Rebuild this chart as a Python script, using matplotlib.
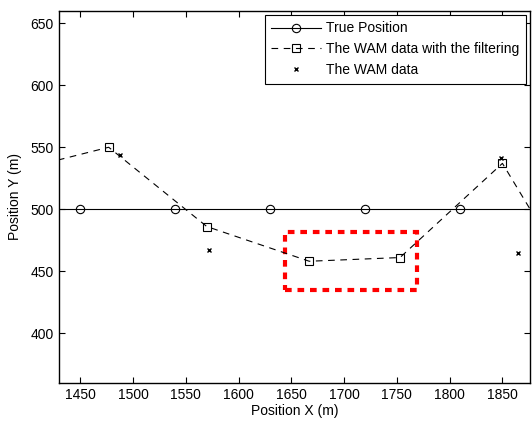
import matplotlib
matplotlib.use("Agg")
import matplotlib.pyplot as plt
from matplotlib.patches import Rectangle

plt.rcParams['font.family'] = ['Liberation Sans', 'DejaVu Sans']
plt.rcParams['font.size'] = 10

# true position
true_x = [1360, 1450, 1540, 1630, 1720, 1810, 1900]
true_y = [500, 500, 500, 500, 500, 500, 500]
# WAM data with the filtering
filt_x = [1384, 1477, 1570, 1667, 1753, 1850, 1940]
filt_y = [530, 550, 486, 458, 461, 537, 410]
# raw WAM data
wam_x = [1488, 1572, 1849, 1865]
wam_y = [544, 467, 541, 465]
# highlighted region (x0, y0, x1, y1)
box = [1644, 435, 1769, 482]

fig = plt.figure(figsize=(5.32, 4.21), dpi=100)
ax = fig.add_axes([0.111, 0.091, 0.885, 0.883])

ax.plot(true_x, true_y, '-', color='k', lw=0.8, marker='o', ms=6,
        mfc='none', mec='k', mew=0.8, label='True Position')
ax.plot(filt_x, filt_y, color='k', lw=0.8, dashes=[6, 5], marker='s', ms=6,
        mfc='none', mec='k', mew=0.8, label='The WAM data with the filtering')
ax.plot(wam_x, wam_y, 'x', color='k', ms=3.5, mew=1.0, label='The WAM data')

ax.add_patch(Rectangle((box[0], box[1]), box[2] - box[0], box[3] - box[1],
                       fill=False, edgecolor='red', lw=3, linestyle=(0, (1.6, 1.4))))

ax.set_xlim(1430, 1876)
ax.set_ylim(360, 660)
ax.set_xticks([1450, 1500, 1550, 1600, 1650, 1700, 1750, 1800, 1850])
ax.set_yticks([400, 450, 500, 550, 600, 650])
ax.tick_params(direction='in', top=True, right=True, length=4, width=0.8,
               labelsize=10, pad=4)
for s in ax.spines.values():
    s.set_linewidth(1.0)
ax.set_xlabel('Position X (m)', fontsize=10, labelpad=1)
ax.set_ylabel('Position Y (m)', fontsize=10, labelpad=6)

leg = ax.legend(loc='upper right', fontsize=10, handlelength=3.6, handletextpad=0.35,
                borderpad=0.45, labelspacing=0.5, borderaxespad=0.3, fancybox=False,
                edgecolor='k', framealpha=1)
leg.get_frame().set_linewidth(0.8)

fig.savefig('out.png', dpi=100)
